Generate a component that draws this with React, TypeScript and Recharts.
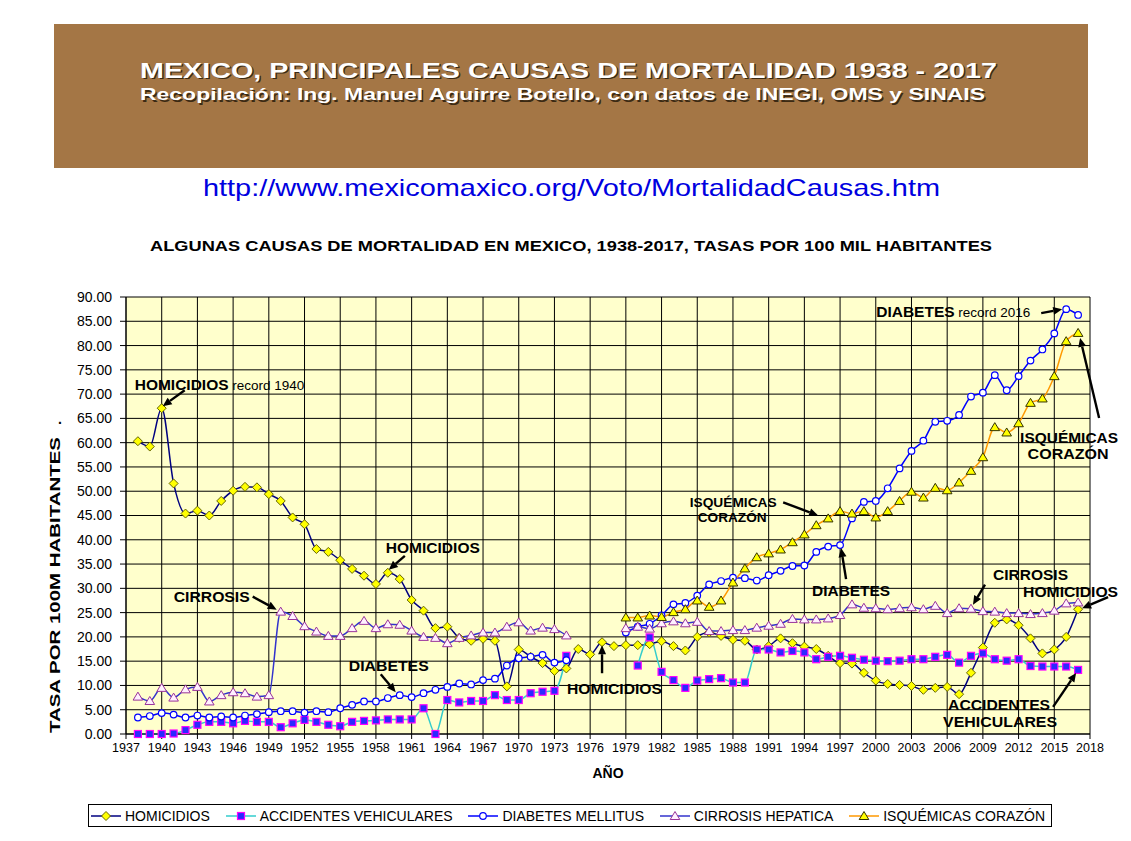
import { LineChart, Line, XAxis, YAxis, CartesianGrid, ReferenceDot } from 'recharts'

const FONT = 'Arial, "Liberation Sans", Helvetica, sans-serif'

// years with data
const years = [
  1938, 1939, 1940, 1941, 1942, 1943, 1944, 1945, 1946, 1947,
  1948, 1949, 1950, 1951, 1952, 1953, 1954, 1955, 1956, 1957,
  1958, 1959, 1960, 1961, 1962, 1963, 1964, 1965, 1966, 1967,
  1968, 1969, 1970, 1971, 1972, 1973, 1974, 1975, 1976, 1977,
  1978, 1979, 1980, 1981, 1982, 1983, 1984, 1985, 1986, 1987,
  1988, 1989, 1990, 1991, 1992, 1993, 1994, 1995, 1996, 1997,
  1998, 1999, 2000, 2001, 2002, 2003, 2004, 2005, 2006, 2007,
  2008, 2009, 2010, 2011, 2012, 2013, 2014, 2015, 2016, 2017,
]

const homicidios = [
  60.3, 59.2, 67.1, 51.6, 45.4, 46.0, 45.0, 48.0, 50.1, 50.9,
  50.8, 49.4, 48.0, 44.6, 43.2, 38.1, 37.5, 35.8, 34.0, 32.6,
  30.9, 33.2, 31.9, 27.6, 25.4, 21.8, 22.1, 19.8, 19.2, 19.6,
  19.2, 9.8, 17.4, 15.9, 14.6, 13.0, 13.5, 17.5, 16.4, 18.9,
  18.1, 18.3, 18.3, 18.5, 19.1, 18.1, 17.2, 20.0, 20.9, 20.2,
  19.4, 19.2, 17.4, 18.1, 19.7, 18.7, 18.0, 17.5, 16.1, 14.6,
  14.5, 12.6, 11.0, 10.3, 10.1, 9.9, 9.1, 9.5, 9.7, 8.2,
  12.6, 17.8, 22.9, 23.6, 22.4, 19.7, 16.6, 17.4, 20.0, 25.7,
]

const accidentes = [
  0.0, 0.0, 0.0, 0.1, 0.8, 1.9, 2.5, 2.5, 2.2, 2.7,
  2.5, 2.5, 1.4, 2.2, 2.9, 2.5, 1.9, 1.6, 2.5, 2.7,
  2.8, 3.0, 3.0, 3.0, 5.3, 0.0, 7.0, 6.5, 6.8, 6.8,
  8.0, 7.0, 7.0, 8.4, 8.7, 8.9, 16.1, null, null, null,
  null, null, 14.1, 19.9, 12.8, 11.1, 9.5, 11.0, 11.3, 11.5,
  10.6, 10.6, 17.4, 17.4, 16.8, 17.1, 16.8, 15.4, 15.9, 16.1,
  15.7, 15.3, 15.1, 15.0, 15.1, 15.4, 15.4, 15.9, 16.3, 14.7,
  16.1, 16.6, 15.4, 15.1, 15.4, 14.0, 13.9, 13.9, 13.9, 13.2,
]

const diabetes = [
  3.4, 3.7, 4.3, 4.0, 3.4, 3.8, 3.4, 3.6, 3.4, 3.8,
  4.1, 4.5, 4.7, 4.7, 4.4, 4.7, 4.5, 5.3, 6.0, 6.7,
  6.7, 7.4, 8.0, 7.6, 8.4, 9.1, 9.7, 10.4, 10.2, 11.1,
  11.4, 14.1, 15.6, 15.9, 16.3, 14.7, 15.2, null, null, null,
  null, 20.9, 22.1, 22.7, 24.4, 26.7, 27.0, 28.5, 30.8, 31.5,
  32.2, 32.1, 31.6, 32.7, 33.6, 34.6, 34.7, 37.5, 38.6, 38.9,
  44.4, 47.8, 48.0, 50.6, 54.7, 58.3, 60.4, 64.3, 64.5, 65.7,
  69.5, 70.3, 73.9, 70.8, 73.7, 76.9, 79.2, 82.5, 87.5, 86.3,
]

const cirrosis = [
  7.7, 6.8, 9.5, 7.5, 9.2, 9.7, 6.7, 8.0, 8.6, 8.4,
  7.7, 8.0, 25.2, 24.3, 22.2, 21.1, 20.2, 20.2, 21.8, 23.3,
  21.8, 22.6, 22.5, 21.3, 20.0, 19.8, 18.7, 19.8, 20.3, 20.9,
  20.9, 22.1, 23.0, 21.3, 21.9, 21.6, 20.3, null, null, null,
  null, 21.8, 22.1, 21.7, 22.8, 23.2, 22.8, 23.1, 21.2, 21.2,
  21.4, 21.4, 21.9, 22.3, 22.7, 23.7, 23.6, 23.6, 23.8, 24.5,
  26.7, 26.0, 25.9, 25.7, 25.9, 26.1, 25.7, 26.4, 24.9, 25.9,
  25.8, 25.3, 25.2, 24.9, 24.9, 24.7, 24.9, 25.4, 26.9, 27.1,
]

const isquemicas = [
  null, null, null, null, null, null, null, null, null, null,
  null, null, null, null, null, null, null, null, null, null,
  null, null, null, null, null, null, null, null, null, null,
  null, null, null, null, null, null, null, null, null, null,
  null, 24.0, 24.0, 24.4, 24.1, 25.1, 25.7, 27.5, 26.2, 27.5,
  31.2, 34.1, 36.4, 37.2, 38.0, 39.5, 41.1, 43.0, 44.4, 45.9,
  45.4, 45.9, 44.6, 45.9, 48.0, 49.9, 48.7, 50.7, 50.2, 51.8,
  54.2, 57.0, 63.2, 62.1, 64.0, 68.2, 69.1, 73.7, 80.9, 82.6,
]

const xTicks = [
  1937, 1940, 1943, 1946, 1949, 1952, 1955, 1958, 1961, 1964,
  1967, 1970, 1973, 1976, 1979, 1982, 1985, 1988, 1991, 1994,
  1997, 2000, 2003, 2006, 2009, 2012, 2015, 2018,
]
const yTicks = [0, 5, 10, 15, 20, 25, 30, 35, 40, 45, 50, 55, 60, 65, 70, 75, 80, 85, 90]

type Shape = 'diamond' | 'square' | 'circle' | 'triangle'

const series = [
  { key: 'homicidios', name: 'HOMICIDIOS', line: '#000080', shape: 'diamond' as Shape, fill: '#FFFF00', edge: '#666600' },
  { key: 'accidentes', name: 'ACCIDENTES VEHICULARES', line: '#33CCCC', shape: 'square' as Shape, fill: '#2A2AFF', edge: '#FF00FF' },
  { key: 'diabetes', name: 'DIABETES MELLITUS', line: '#0000FF', shape: 'circle' as Shape, fill: '#FFFFFF', edge: '#0000FF' },
  { key: 'cirrosis', name: 'CIRROSIS HEPATICA', line: '#3333CC', shape: 'triangle' as Shape, fill: '#FFF0FF', edge: '#993399' },
  { key: 'isquemicas', name: 'ISQUÉMICAS CORAZÓN', line: '#FF9900', shape: 'triangle' as Shape, fill: '#FFFF00', edge: '#333300' },
]

const data = years.map((year, i) => ({
  year,
  homicidios: homicidios[i],
  accidentes: accidentes[i],
  diabetes: diabetes[i],
  cirrosis: cirrosis[i],
  isquemicas: isquemicas[i],
}))

function Marker({ shape, cx, cy, fill, edge }: { shape: Shape; cx: number; cy: number; fill: string; edge: string }) {
  if (shape === 'diamond') {
    return <polygon points={`${cx},${cy - 4.5} ${cx + 4.5},${cy} ${cx},${cy + 4.5} ${cx - 4.5},${cy}`} fill={fill} stroke={edge} strokeWidth={1} />
  }
  if (shape === 'square') {
    return <rect x={cx - 3.5} y={cy - 3.5} width={7} height={7} fill={fill} stroke={edge} strokeWidth={1.2} />
  }
  if (shape === 'circle') {
    return <circle cx={cx} cy={cy} r={3.3} fill={fill} stroke={edge} strokeWidth={1.2} />
  }
  return <polygon points={`${cx},${cy - 4.5} ${cx + 4.8},${cy + 3.5} ${cx - 4.8},${cy + 3.5}`} fill={fill} stroke={edge} strokeWidth={1} />
}

// annotation: anchor point from the data, text and arrow offsets in px from that point
type Part = { t: string; bold?: boolean; size?: number }
type NoteLine = { dx: number; dy: number; anchor?: 'start' | 'middle'; parts: Part[]; len?: number }
type Note = { x: number; y: number; lines: NoteLine[]; arrow: [number, number, number, number] }

const notes: Note[] = [
  { x: years[2], y: homicidios[2] as number, arrow: [23, -18, 1, -2],
    lines: [{ dx: -27, dy: -18, parts: [{ t: 'HOMICIDIOS', bold: true }, { t: ' record 1940', size: 13.5 }] }] },
  { x: years[12], y: cirrosis[12] as number, arrow: [-28, -15, -4, -2],
    lines: [{ dx: -107, dy: -10, len: 76, parts: [{ t: 'CIRROSIS', bold: true }] }] },
  { x: years[21], y: homicidios[21] as number, arrow: [17, -17, 1, -3],
    lines: [{ dx: -2, dy: -20, len: 94, parts: [{ t: 'HOMICIDIOS', bold: true }] }] },
  { x: years[22], y: diabetes[22] as number, arrow: [-19, -21, -4, -3],
    lines: [{ dx: -51, dy: -24, len: 80, parts: [{ t: 'DIABETES', bold: true }] }] },
  { x: years[39], y: homicidios[39] as number, arrow: [0, 31, 0, 3],
    lines: [{ dx: -35, dy: 52, len: 95, parts: [{ t: 'HOMICIDIOS', bold: true }] }] },
  { x: years[58], y: isquemicas[58] as number, arrow: [-45, -16, -10, -3],
    lines: [
      { dx: -95, dy: -11, anchor: 'middle', len: 87, parts: [{ t: 'ISQUÉMICAS', bold: true, size: 13.5 }] },
      { dx: -96, dy: 4, anchor: 'middle', len: 69, parts: [{ t: 'CORAZÓN', bold: true, size: 13.5 }] },
    ] },
  { x: years[59], y: diabetes[59] as number, arrow: [6, 34, 1, 3],
    lines: [{ dx: -28, dy: 51, len: 78, parts: [{ t: 'DIABETES', bold: true }] }] },
  { x: years[78], y: diabetes[78] as number, arrow: [-25, 4, -4, 0],
    lines: [{ dx: -190, dy: 8, parts: [{ t: 'DIABETES', bold: true }, { t: ' record 2016', size: 13.5 }] }] },
  { x: years[79], y: isquemicas[79] as number, arrow: [21, 85, 2, 5],
    lines: [
      { dx: -9, dy: 110, anchor: 'middle', len: 98, parts: [{ t: 'ISQUÉMICAS', bold: true }] },
      { dx: -10, dy: 126, anchor: 'middle', len: 81, parts: [{ t: 'CORAZÓN', bold: true }] },
    ] },
  { x: years[70], y: cirrosis[70] as number, arrow: [14, -24, 2, -4],
    lines: [{ dx: 22, dy: -29, len: 75, parts: [{ t: 'CIRROSIS', bold: true }] }] },
  { x: years[79], y: homicidios[79] as number, arrow: [30, -12, 4, -1],
    lines: [{ dx: -55, dy: -12, len: 95, parts: [{ t: 'HOMICIDIOS', bold: true }] }] },
  { x: years[79], y: accidentes[79] as number, arrow: [-25, 37, -2, 3],
    lines: [
      { dx: -79, dy: 40, anchor: 'middle', len: 102, parts: [{ t: 'ACCIDENTES', bold: true }] },
      { dx: -78, dy: 57, anchor: 'middle', len: 114, parts: [{ t: 'VEHICULARES', bold: true }] },
    ] },
]

function Arrow({ x1, y1, x2, y2 }: { x1: number; y1: number; x2: number; y2: number }) {
  const a = Math.atan2(y2 - y1, x2 - x1)
  const len = 9
  const w = 4
  const bx = x2 - len * Math.cos(a)
  const by = y2 - len * Math.sin(a)
  const px = -Math.sin(a) * w
  const py = Math.cos(a) * w
  return (
    <g>
      <line x1={x1} y1={y1} x2={bx} y2={by} stroke="#000" strokeWidth={2.4} />
      <polygon points={`${x2},${y2} ${bx + px},${by + py} ${bx - px},${by - py}`} fill="#000" />
    </g>
  )
}

function NoteShape({ cx, cy, note }: { cx: number; cy: number; note: Note }) {
  const [tx, ty, hx, hy] = note.arrow
  return (
    <g>
      <Arrow x1={cx + tx} y1={cy + ty} x2={cx + hx} y2={cy + hy} />
      {note.lines.map((ln, i) => (
        <text
          key={i}
          x={cx + ln.dx}
          y={cy + ln.dy}
          textAnchor={ln.anchor ?? 'start'}
          fontFamily={FONT}
          fill="#000"
          textLength={ln.len}
          lengthAdjust={ln.len ? 'spacingAndGlyphs' : undefined}
        >
          {ln.parts.map((p, j) => (
            <tspan key={j} fontWeight={p.bold ? 'bold' : 'normal'} fontSize={p.size ?? 15.5}>
              {p.t}
            </tspan>
          ))}
        </text>
      ))}
    </g>
  )
}

function LegendIcon({ s }: { s: (typeof series)[number] }) {
  return (
    <svg width={32} height={14} style={{ display: 'block' }}>
      <line x1={1} y1={7} x2={31} y2={7} stroke={s.line} strokeWidth={1.5} />
      <Marker shape={s.shape} cx={16} cy={7} fill={s.fill} edge={s.edge} />
    </svg>
  )
}

export default function App() {
  return (
    <div style={{ position: 'absolute', left: 0, top: 0, width: 1131, height: 841, background: '#fff', fontFamily: FONT }}>
      <LineChart width={1131} height={841} data={data} margin={{ top: 297, right: 41, bottom: 38, left: 66 }}>
        <CartesianGrid stroke="#000" strokeWidth={1} fill="#FFFFCC" fillOpacity={1} />
        <XAxis
          dataKey="year"
          type="number"
          domain={[1937, 2018]}
          ticks={xTicks}
          interval={0}
          height={69}
          tickSize={5}
          tickMargin={4}
          tick={{ fill: '#000', fontSize: 12.5, fontFamily: FONT }}
          stroke="#000"
          label={{ value: 'AÑO', position: 'insideTop', offset: 34, fill: '#000', fontSize: 14, fontWeight: 'bold', fontFamily: FONT }}
        />
        <YAxis
          type="number"
          domain={[0, 90]}
          ticks={yTicks}
          interval={0}
          width={60}
          tickSize={6}
          tickMargin={8}
          tick={{ fill: '#000', fontSize: 14, fontFamily: FONT }}
          tickFormatter={(v: number) => v.toFixed(2)}
          stroke="#000"
        />
        {series.map((s) => (
          <Line
            key={s.key}
            dataKey={s.key}
            name={s.name}
            type="monotone"
            stroke={s.line}
            strokeWidth={1.5}
            connectNulls={false}
            isAnimationActive={false}
            activeDot={false}
            dot={(p: any) =>
              p.cx == null || p.cy == null || p.value == null ? (
                <g key={`${s.key}-${p.index}`} />
              ) : (
                <Marker key={`${s.key}-${p.index}`} shape={s.shape} cx={p.cx} cy={p.cy} fill={s.fill} edge={s.edge} />
              )
            }
          />
        ))}
        {notes.map((n, i) => (
          <ReferenceDot
            key={i}
            x={n.x}
            y={n.y}
            r={0}
            ifOverflow="visible"
            shape={(p: any) => <NoteShape cx={p.cx} cy={p.cy} note={n} />}
          />
        ))}
      </LineChart>

      <svg width={1131} height={841} style={{ position: 'absolute', left: 0, top: 0, pointerEvents: 'none' }}>
        <rect x={54} y={24} width={1034} height={144} fill="#A47645" />
        <g fontFamily={FONT} fontWeight="bold" textAnchor="middle">
          <text x={570} y={79} fontSize={22} fill="#3b2a14" textLength={857} lengthAdjust="spacingAndGlyphs">
            MEXICO, PRINCIPALES CAUSAS DE MORTALIDAD 1938 - 2017
          </text>
          <text x={568.5} y={77.5} fontSize={22} fill="#fff" textLength={857} lengthAdjust="spacingAndGlyphs">
            MEXICO, PRINCIPALES CAUSAS DE MORTALIDAD 1938 - 2017
          </text>
          <text x={564} y={101.5} fontSize={17} fill="#3b2a14" textLength={845} lengthAdjust="spacingAndGlyphs">
            Recopilación: Ing. Manuel Aguirre Botello, con datos de INEGI, OMS y SINAIS
          </text>
          <text x={562.5} y={100} fontSize={17} fill="#fff" textLength={845} lengthAdjust="spacingAndGlyphs">
            Recopilación: Ing. Manuel Aguirre Botello, con datos de INEGI, OMS y SINAIS
          </text>
        </g>
        <text x={571.5} y={196} fontFamily={FONT} fontSize={24} fill="#0000E0" textAnchor="middle" textLength={737} lengthAdjust="spacingAndGlyphs">
          http://www.mexicomaxico.org/Voto/MortalidadCausas.htm
        </text>
        <text x={571} y={251} fontFamily={FONT} fontSize={15} fontWeight="bold" fill="#000" textAnchor="middle" textLength={842} lengthAdjust="spacingAndGlyphs">
          ALGUNAS CAUSAS DE MORTALIDAD EN MEXICO, 1938-2017, TASAS POR 100 MIL HABITANTES
        </text>
        <text
          x={0}
          y={0}
          transform="translate(60,585) rotate(-90)"
          fontFamily={FONT}
          fontSize={15}
          fontWeight="bold"
          fill="#000"
          textAnchor="middle"
          textLength={296}
          lengthAdjust="spacingAndGlyphs"
        >
          TASA POR 100M HABITANTES
        </text>
        <text x={58} y={424} fontFamily={FONT} fontSize={14} fontWeight="bold" fill="#000">.</text>
      </svg>

      <div
        style={{
          position: 'absolute',
          left: 88,
          top: 804,
          width: 964,
          height: 23,
          border: '1px solid #000',
          boxSizing: 'border-box',
          display: 'flex',
          alignItems: 'center',
          justifyContent: 'space-between',
          padding: '0 6px 0 1px',
          fontSize: 14,
          color: '#000',
          background: '#fff',
        }}
      >
        {series.map((s) => (
          <div key={s.key} style={{ display: 'flex', alignItems: 'center', gap: 3 }}>
            <LegendIcon s={s} />
            <span style={{ whiteSpace: 'nowrap' }}>{s.name}</span>
          </div>
        ))}
      </div>
    </div>
  )
}
